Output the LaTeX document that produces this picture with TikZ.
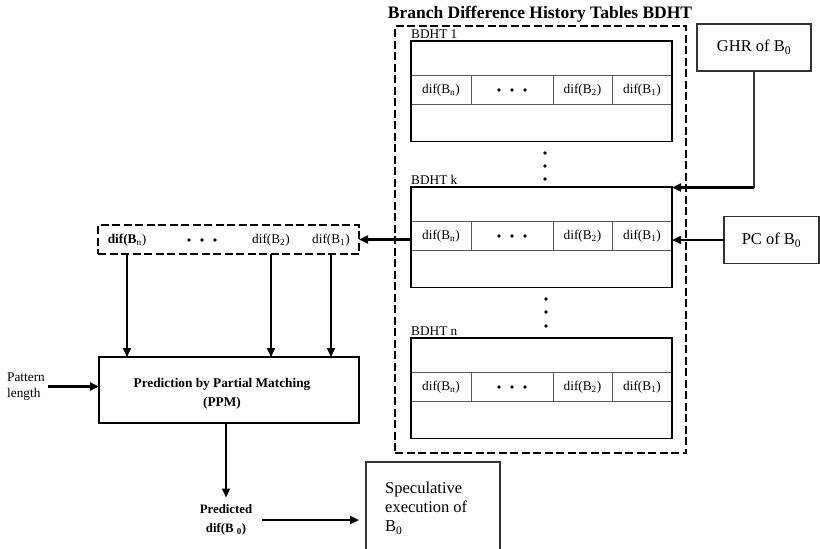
\documentclass[tikz,border=0pt]{standalone}
\usepackage{fontspec}
\setmainfont{Liberation Serif}
\usetikzlibrary{arrows.meta,calc}
\newcommand{\bdhttable}[3]{%
 \begin{scope}[shift={(0,#2)}]
  \node[cell,minimum width=60pt] (#1a) at (441,49) {dif(B\textsubscript{n})};
  \node[cell,minimum width=82pt] (#1b) at (512,49) {};
  \node[cell,minimum width=59pt] (#1c) at (582.5,49) {dif(B\textsubscript{2})};
  \node[cell,minimum width=60pt] (#1d) at (642,49) {dif(B\textsubscript{1})};
  \node[tbox] (#1) at (541.5,50.25) {};
  \node[tlabel] (#1lab) at ([yshift=2.5pt]#1.north west) {#3};
  \foreach \d in {-13,0,13} \fill ([xshift=\d pt]#1b.center) circle (1.9pt);
 \end{scope}}
\begin{document}
\begin{tikzpicture}[x=1pt,y=-1pt,
  arr/.style={line width=2.2pt,-{Triangle[length=9pt,width=8pt]}},
  dbox/.style={draw,line width=2.4pt,dash pattern=on 8pt off 3.5pt,inner sep=0pt,outer sep=0pt},
  cell/.style={draw=black!65,line width=1pt,minimum height=29pt,inner sep=0pt,outer sep=0pt,font=\fontsize{13.3}{15}\selectfont},
  tbox/.style={draw,line width=1.5pt,minimum width=261pt,minimum height=100.5pt,inner sep=0pt,outer sep=0pt},
  tlabel/.style={anchor=base west,inner sep=0pt,font=\fontsize{13.3}{15}\selectfont},
  plainbox/.style={draw=black!80,line width=1.1pt,inner sep=0pt,outer sep=0pt},
  txt/.style={font=\fontsize{13.3}{15}\selectfont,inner sep=0pt}
]
\useasboundingbox (0,0) rectangle (820,549);
\clip (0,0) rectangle (820,549);
\fill[white] (0,0) rectangle (820,549);

% title and outer dashed box
\node[font=\fontsize{17.5}{20}\selectfont\bfseries] (title) at (540,14) {Branch Difference History Tables BDHT};
\node[dbox,minimum width=291pt,minimum height=427pt] (outer) at (540.5,239.5) {};

% tables
\bdhttable{t1}{41}{BDHT 1}
\bdhttable{k}{187}{BDHT k}
\bdhttable{tn}{338}{BDHT n}

% vertical dots
\foreach \y in {153,166,179} \fill (545,\y) circle (1.9pt);
\foreach \y in {299,312,326} \fill (546,\y) circle (1.9pt);

% GHR and PC
\node[plainbox,minimum width=114pt,minimum height=47pt,font=\fontsize{16.5}{18}\selectfont] (ghr) at (754,47.5) {GHR of B\textsubscript{0}};
\coordinate (ghrc) at (754,187.5);
\draw[line width=1.1pt,black!80] (ghr.south) -- (ghrc);
\draw[arr] (ghrc) -- (ghrc -| k.east);

\node[plainbox,minimum width=95pt,minimum height=47pt,font=\fontsize{16.5}{18}\selectfont] (pc) at (771.5,240) {PC of B\textsubscript{0}};
\draw[arr] (pc.west) -- (pc.west -| kd.east);

% history box
\node[dbox,minimum width=261pt,minimum height=29pt] (hist) at (228.5,239.5) {};
\node[txt] (h1) at (127,240) {\textbf{dif(B}\textsubscript{n})};
\node[txt] (h2) at (271,240) {dif(B\textsubscript{2})};
\node[txt] (h3) at (331,240) {dif(B\textsubscript{1})};
\foreach \x in {189,202,215} \fill (\x,240) circle (1.9pt);
\draw[arr] (hist.east -| ka.west) -- (hist.east);

% PPM
\node[draw,line width=1.4pt,inner sep=0pt,outer sep=0pt,minimum width=260pt,minimum height=66pt] (ppm) at (229,390) {};
\node[font=\fontsize{13.3}{19.5}\selectfont\bfseries,align=center,inner sep=0pt] (ppmt) at (222,394) {Prediction by Partial Matching\\(PPM)};
\foreach \h in {h1,h2,h3} \draw[arr] (\h |- hist.south) -- (\h |- ppm.north);

\node[font=\fontsize{13.3}{15.5}\selectfont,align=left,anchor=west,inner sep=0pt] (pat) at (7,386.5) {Pattern\\length};
\draw[arr,shorten <=3pt] (pat.east) -- (pat.east -| ppm.west);

% prediction output
\node[font=\fontsize{12.8}{19}\selectfont\bfseries,align=center,inner sep=0pt] (pred) at (226,520) {Predicted\\dif(B\ \textsubscript{0})};
\draw[arr,shorten >=7pt] (pred |- ppm.south) -- (pred.north);

\node[plainbox,minimum width=134pt,minimum height=100pt,anchor=north west] (spec) at (366,462) {};
\node[font=\fontsize{16.5}{19}\selectfont,align=left,anchor=north west,inner sep=0pt] (spect) at (385,482) {Speculative\\execution of\\B\textsubscript{0}};
\draw[arr,shorten <=10pt,shorten >=7pt] ([yshift=0pt]pred.east) -- ([yshift=0pt]pred.east -| spec.west);
\end{tikzpicture}
\end{document}
